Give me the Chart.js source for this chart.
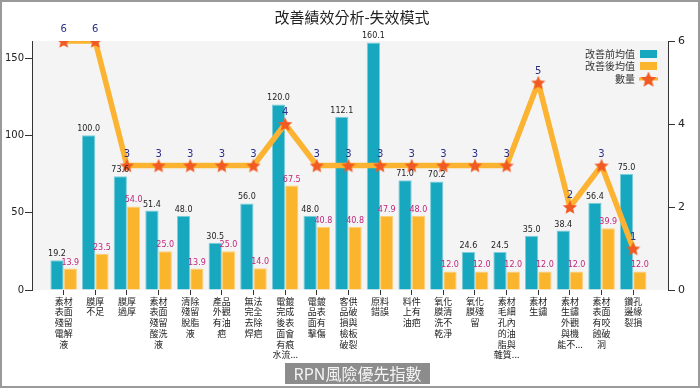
<!DOCTYPE html>
<html>
<head>
<meta charset="utf-8">
<script src="https://cdn.jsdelivr.net/npm/chart.js@4"></script>
<style>
  html, body { margin: 0; padding: 0; background: #fff; }
  #wrap { width: 700px; height: 388px; }
</style>
</head>
<body>
<div id="wrap"><canvas id="rpnChart" width="700" height="388"></canvas></div>
<script>
// data
const categories = [
    "素材表面殘留電解液", "膜厚不足", "膜厚過厚", "素材表面殘留酸洗液", "清除殘留脫脂液",
    "產品外觀有油疤", "無法完全去除焊疤", "電鍍完成後表面會有痕水流...", "電鍍品表面有擊傷",
    "客供品破損與檢板破裂", "原料錯誤", "料件上有油疤", "氧化膜清洗不乾淨", "氧化膜殘留",
    "素材毛細孔內的油脂與雜質...", "素材生鏽", "素材生鏽外觀與機能不...", "素材表面有咬蝕破洞", "鑽孔邊緣裂損"
];
const beforeAvg = [19.2, 100.0, 73.6, 51.4, 48.0, 30.5, 56.0, 120.0, 48.0, 112.1, 160.1, 71.0, 70.2, 24.6, 24.5, 35.0, 38.4, 56.4, 75.0];
const afterAvg  = [13.9, 23.5, 54.0, 25.0, 13.9, 25.0, 14.0, 67.5, 40.8, 40.8, 47.9, 48.0, 12.0, 12.0, 12.0, 12.0, 12.0, 39.9, 12.0];
const counts    = [6, 6, 3, 3, 3, 3, 3, 4, 3, 3, 3, 3, 3, 3, 3, 5, 2, 3, 1];
const leftTicks  = [0, 50, 100, 150];
const rightTicks = [0, 2, 4, 6];
const seriesNames = ["改善前均值", "改善後均值", "數量"];
const chartTitle = "改善績效分析-失效模式";
const axisTitle = "RPN風險優先指數";

const TEAL = "#17a8c0";
const ORANGE = "#fbb52d";
const STAR = "#f15a22";
const CJK = '"Noto Sans CJK TC", "Noto Sans", sans-serif';
const NUM = '"DejaVu Sans", "Noto Sans CJK TC", sans-serif';

// two characters per line, "..." stays on the last line
function wrapLabel(name) {
    let tail = "";
    if (name.endsWith("...")) { tail = "..."; name = name.slice(0, -3); }
    const lines = [];
    for (let i = 0; i < name.length; i += 2) lines.push(name.slice(i, i + 2));
    lines[lines.length - 1] += tail;
    return lines;
}

function makeStar(size, color) {
    const c = document.createElement("canvas");
    c.width = c.height = size;
    const g = c.getContext("2d");
    const cx = size / 2, cy = size / 2 + size * 0.05;
    const R = size / 2 - 0.5, r = R * 0.45;
    g.beginPath();
    for (let k = 0; k < 10; k++) {
        const rad = k % 2 ? r : R;
        const a = -Math.PI / 2 + k * Math.PI / 5;
        g.lineTo(cx + rad * Math.cos(a), cy + rad * Math.sin(a));
    }
    g.closePath();
    g.fillStyle = color;
    g.fill();
    return c;
}
const starPoint = makeStar(16, STAR);
const starLegend = makeStar(18, STAR);

const toXY = arr => arr.map((v, i) => ({ x: i, y: v }));

// background, frame, plot area fill
const backdrop = {
    id: "backdrop",
    beforeDraw(chart) {
        const { ctx, chartArea: a } = chart;
        ctx.save();
        ctx.fillStyle = "#fff";
        ctx.fillRect(0, 0, chart.width, chart.height);
        ctx.fillStyle = "#f4f4f4";
        ctx.fillRect(a.left, a.top, a.right - a.left, a.bottom - a.top);
        ctx.strokeStyle = "#9a9a9a";
        ctx.lineWidth = 2;
        ctx.strokeRect(1, 1, chart.width - 2, chart.height - 2);
        ctx.restore();
    }
};

// numbers over the bars and stars
const valueLabels = {
    id: "valueLabels",
    afterDatasetsDraw(chart) {
        const ctx = chart.ctx;
        const styles = [
            { color: "#222", font: "8px " + NUM, gap: 4, fmt: v => v.toFixed(1) },
            { color: "#c0267b", font: "8px " + NUM, gap: 4, fmt: v => v.toFixed(1) },
            { color: "#2b2f86", font: "10px " + NUM, gap: 9, fmt: v => String(v) }
        ];
        ctx.save();
        ctx.textAlign = "center";
        ctx.textBaseline = "alphabetic";
        chart.data.datasets.forEach((ds, di) => {
            const st = styles[di];
            ctx.fillStyle = st.color;
            ctx.font = st.font;
            chart.getDatasetMeta(di).data.forEach((el, i) => {
                ctx.fillText(st.fmt(ds.data[i].y), el.x, el.y - st.gap);
            });
        });
        ctx.restore();
    }
};

// title, legend inside the plot, boxed axis title
const decorations = {
    id: "decorations",
    afterDraw(chart) {
        const ctx = chart.ctx;
        ctx.save();
        ctx.fillStyle = "#222";
        ctx.font = "15px " + CJK;
        ctx.textAlign = "center";
        ctx.textBaseline = "middle";
        ctx.fillText(chartTitle, 352, 17);

        // legend
        ctx.font = "10px " + CJK;
        ctx.textAlign = "right";
        ctx.fillStyle = "#333";
        const rows = [54, 66, 79];
        seriesNames.forEach((n, i) => ctx.fillText(n, 635, rows[i]));
        ctx.fillStyle = TEAL;
        ctx.fillRect(640, rows[0] - 4, 17, 8);
        ctx.fillStyle = ORANGE;
        ctx.fillRect(640, rows[1] - 4, 17, 8);
        ctx.strokeStyle = ORANGE;
        ctx.lineWidth = 3;
        ctx.beginPath();
        ctx.moveTo(639, rows[2]);
        ctx.lineTo(658, rows[2]);
        ctx.stroke();
        ctx.drawImage(starLegend, 648.5 - 9, rows[2] - 9);

        // RPN box
        ctx.fillStyle = "#8c8c8c";
        ctx.fillRect(285, 363, 145, 21);
        ctx.fillStyle = "#f4f4f4";
        ctx.font = "16px " + CJK;
        ctx.textAlign = "center";
        ctx.fillText(axisTitle, 357.5, 373.5);
        ctx.restore();
    }
};

new Chart(document.getElementById("rpnChart"), {
    type: "bar",
    data: {
        datasets: [{
            label: seriesNames[0],
            data: toXY(beforeAvg),
            backgroundColor: TEAL,
            borderColor: "#7ccfdc",
            borderWidth: 1,
            yAxisID: "y",
            order: 2
        }, {
            label: seriesNames[1],
            data: toXY(afterAvg),
            backgroundColor: ORANGE,
            borderColor: "#fdd17c",
            borderWidth: 1,
            yAxisID: "y",
            order: 2
        }, {
            type: "line",
            label: seriesNames[2],
            data: toXY(counts),
            borderColor: "#fbb331",
            borderWidth: 5.5,
            borderJoinStyle: "round",
            pointStyle: starPoint,
            tension: 0,
            yAxisID: "y1",
            order: 0
        }]
    },
    options: {
        responsive: false,
        animation: false,
        layout: { padding: { top: 41, left: 0, right: 0, bottom: 0 } },
        categoryPercentage: 0.84,
        barPercentage: 1,
        scales: {
            x: {
                type: "linear",
                offset: false,
                min: -1,
                max: 19.1,
                afterBuildTicks: s => { s.ticks = categories.map((c, i) => ({ value: i })); },
                afterFit: s => { s.height = 98; },
                border: { display: false },
                grid: { drawOnChartArea: false, tickLength: 5, color: "#333", offset: false },
                ticks: {
                    autoSkip: false,
                    maxRotation: 0,
                    padding: 1,
                    color: "#222",
                    font: { family: CJK, size: 9, lineHeight: 1.19 },
                    callback: v => wrapLabel(categories[v])
                }
            },
            y: {
                position: "left",
                min: 0,
                max: 161,
                afterBuildTicks: s => { s.ticks = leftTicks.map(v => ({ value: v })); },
                afterFit: s => { s.width = 32; },
                border: { display: true, color: "#333", width: 1 },
                grid: { drawOnChartArea: false, tickLength: 7, color: "#333" },
                ticks: { padding: 1, color: "#222", font: { family: NUM, size: 10 } }
            },
            y1: {
                position: "right",
                min: 0,
                max: 6,
                afterBuildTicks: s => { s.ticks = rightTicks.map(v => ({ value: v })); },
                afterFit: s => { s.width = 32; },
                border: { display: true, color: "#333", width: 1 },
                grid: { drawOnChartArea: false, tickLength: 7, color: "#333" },
                ticks: { padding: 3, color: "#222", font: { family: NUM, size: 11 } }
            }
        },
        plugins: {
            legend: { display: false },
            title: { display: false },
            tooltip: { enabled: false }
        }
    },
    plugins: [backdrop, valueLabels, decorations]
});
</script>
</body>
</html>
